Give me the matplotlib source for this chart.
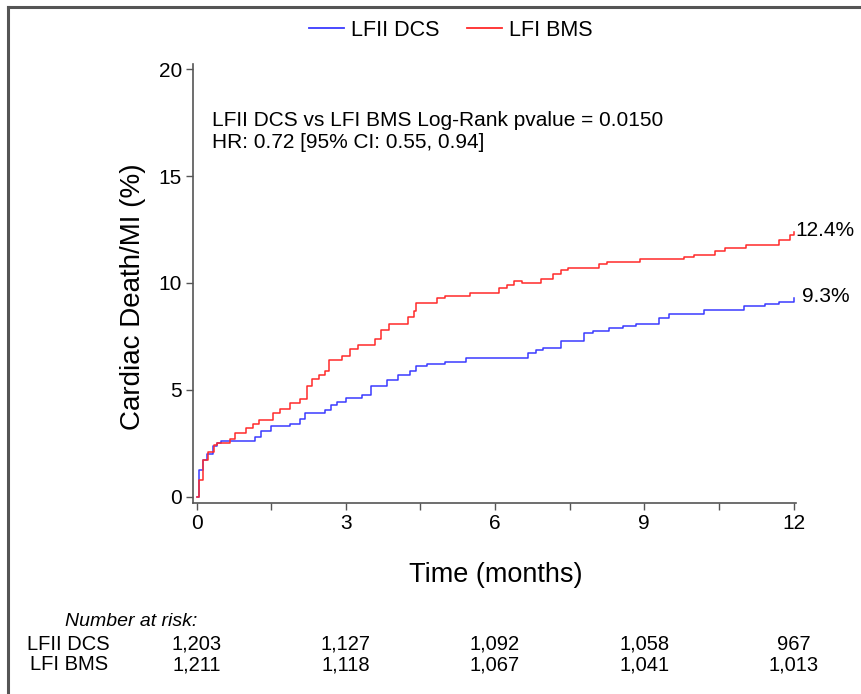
import matplotlib
matplotlib.use("Agg")
import matplotlib.pyplot as plt
from matplotlib.lines import Line2D

plt.rcParams['font.family'] = ['Liberation Sans', 'DejaVu Sans']

# ---- data ----
dcs_t = [0.0, 0.04, 0.125, 0.21, 0.33, 0.42, 0.5, 1.17, 1.29, 1.5, 1.875, 2.08, 2.17, 2.58, 2.71, 2.83,
         3.0, 3.33, 3.5, 3.83, 4.04, 4.29, 4.42, 4.625, 5.0, 5.42, 6.67, 6.83, 6.96, 7.33, 7.79, 7.96,
         8.29, 8.58, 8.83, 9.29, 9.5, 10.21, 11.0, 11.42, 11.71, 12.0]
dcs_v = [0.0, 1.25, 1.7, 2.0, 2.35, 2.5, 2.6, 2.8, 3.05, 3.3, 3.4, 3.65, 3.9, 4.05, 4.3, 4.45,
         4.6, 4.75, 5.2, 5.45, 5.7, 5.9, 6.1, 6.2, 6.3, 6.5, 6.7, 6.85, 6.95, 7.3, 7.65, 7.75,
         7.9, 8.0, 8.1, 8.35, 8.55, 8.75, 8.9, 9.0, 9.1, 9.3]

bms_t = [0.0, 0.04, 0.125, 0.23, 0.35, 0.42, 0.67, 0.775, 1.0, 1.125, 1.25, 1.54, 1.67, 1.875, 2.08,
         2.21, 2.33, 2.46, 2.58, 2.67, 2.92, 3.08, 3.25, 3.58, 3.71, 3.875, 4.25, 4.375, 4.42, 4.83,
         5.0, 5.5, 6.08, 6.25, 6.375, 6.54, 6.92, 7.17, 7.33, 7.46, 8.08, 8.25, 8.92, 9.79, 10.0,
         10.42, 10.625, 11.04, 11.71, 11.92, 12.0]
bms_v = [0.0, 0.8, 1.7, 2.1, 2.4, 2.5, 2.7, 3.0, 3.2, 3.4, 3.6, 3.9, 4.1, 4.4, 4.55,
         5.2, 5.5, 5.7, 5.9, 6.4, 6.6, 6.9, 7.1, 7.4, 7.8, 8.1, 8.4, 8.7, 9.05, 9.3,
         9.4, 9.55, 9.75, 9.9, 10.1, 10.0, 10.2, 10.4, 10.6, 10.7, 10.9, 11.0, 11.1, 11.2, 11.3,
         11.5, 11.65, 11.8, 12.0, 12.25, 12.4]

dcs_label = "LFII DCS"
bms_label = "LFI BMS"
end_labels = ["9.3%", "12.4%"]
x_ticks = [0, 3, 6, 9, 12]
x_minor = [1.5, 4.5, 7.5, 10.5]
y_ticks = [0, 5, 10, 15, 20]
risk_dcs = ["1,203", "1,127", "1,092", "1,058", "967"]
risk_bms = ["1,211", "1,118", "1,067", "1,041", "1,013"]

W, H = 861, 694
fig = plt.figure(figsize=(W / 100, H / 100), dpi=100)
ax = fig.add_axes([193 / W, 1 - 503 / H, (796 - 193) / W, (503 - 64) / H])

blue = '#3a3aff'
red = '#ff2a2a'
ax.step(dcs_t, dcs_v, where='post', color=blue, lw=1.1)
ax.step(bms_t, bms_v, where='post', color=red, lw=1.1)

ax.set_xlim(-0.072, 12.05)
ax.set_ylim(-0.3, 20.25)

ax.set_xticks(x_ticks)
ax.set_xticks(x_minor, minor=True)
ax.set_yticks(y_ticks)
ax.set_yticklabels([str(v) for v in y_ticks])
for s in ['top', 'right']:
    ax.spines[s].set_visible(False)
for s in ['left', 'bottom']:
    ax.spines[s].set_color('#555555')
    ax.spines[s].set_linewidth(1.2)
ax.tick_params(which='both', direction='out', length=5, width=1, color='#555555', labelsize=15, pad=3)

ax.set_xlabel("Time (months)", fontsize=19.5)
ax.xaxis.set_label_coords(0.5025, -0.134)
ax.set_ylabel("Cardiac Death/MI (%)", fontsize=20)
ax.yaxis.set_label_coords(-0.078, 0.469)

ax.text(0.3, 17.09, "LFII DCS vs LFI BMS Log-Rank pvalue = 0.0150\nHR: 0.72 [95% CI: 0.55, 0.94]",
        fontsize=15, va='center', ha='left', linespacing=1.24)

ax.text(12.18, dcs_v[-1] + 0.05, end_labels[0], fontsize=15, va='center', ha='left')
ax.text(12.04, bms_v[-1] + 0.05, end_labels[1], fontsize=15, va='center', ha='left')

handles = [Line2D([], [], color=blue, lw=1.3), Line2D([], [], color=red, lw=1.3)]
fig.legend(handles, [dcs_label, bms_label], loc='center', bbox_to_anchor=(451 / W, 1 - 30 / H),
           ncol=2, frameon=False, fontsize=15.5, handlelength=1.6, handletextpad=0.33, columnspacing=1.3)

# Number at risk
fig.text(65 / W, 1 - 622 / H, "Number at risk:", fontsize=14, style='italic', ha='left', va='center')
for i, (a, b) in enumerate(zip(risk_dcs, risk_bms)):
    xd = ax.transData.transform((x_ticks[i], 0))[0] / W
    fig.text(xd, 1 - 644 / H, a, fontsize=14.5, ha='center', va='center')
    fig.text(xd, 1 - 665 / H, b, fontsize=14.5, ha='center', va='center')
fig.text(68 / W, 1 - 644 / H, dcs_label, fontsize=14.5, ha='center', va='center')
fig.text(69 / W, 1 - 665 / H, bms_label, fontsize=14.5, ha='center', va='center')

# figure border (top & left)
fig.add_artist(Line2D([8 / W, 1.0], [1 - 7 / H, 1 - 7 / H], color='#555555', lw=2.2, transform=fig.transFigure))
fig.add_artist(Line2D([8 / W, 8 / W], [0, 1 - 7 / H], color='#555555', lw=2.2, transform=fig.transFigure))

fig.savefig("out.png", dpi=100)
